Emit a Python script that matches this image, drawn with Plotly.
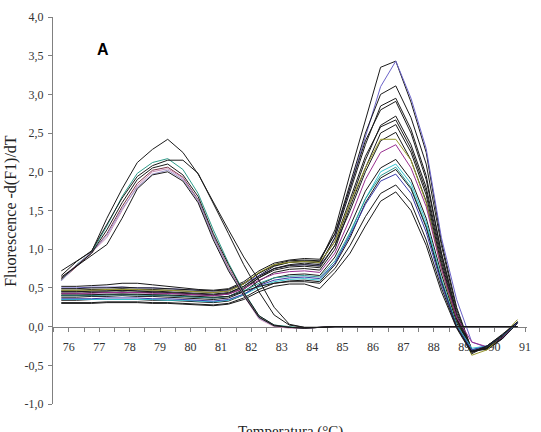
import plotly.graph_objects as go

# ---------------- data ----------------
temps = [75.75, 76.25, 76.75, 77.25, 77.75, 78.25, 78.75, 79.25, 79.75, 80.25,
         80.75, 81.25, 81.75, 82.25, 82.75, 83.25, 83.75, 84.25, 84.75, 85.25,
         85.75, 86.25, 86.75, 87.25, 87.75, 88.25, 88.75, 89.25, 89.75, 90.25, 90.75]

# first product (peak ~79 °C)
a1 = [0.72, 0.85, 0.97, 1.40, 1.78, 2.12, 2.29, 2.42, 2.25, 1.97, 1.60, 1.25, 0.90, 0.60, 0.25, 0.03,
      -0.01, -0.01, 0, 0, 0, 0, 0, 0, 0, 0, 0, 0, 0, 0, 0]
a2 = [0.66, 0.84, 0.98, 1.32, 1.66, 1.94, 2.08, 2.15, 2.15, 1.98, 1.60, 1.20, 0.80, 0.45, 0.15, 0.02,
      -0.01, -0.01, 0, 0, 0, 0, 0, 0, 0, 0, 0, 0, 0, 0, 0]
a3 = [0.60, 0.80, 0.96, 1.30, 1.68, 1.98, 2.12, 2.17, 2.03, 1.72, 1.25, 0.82, 0.45, 0.14, 0.02, 0.00,
      -0.02, -0.01, 0, 0, 0, 0, 0, 0, 0, 0, 0, 0, 0, 0, 0]
a4 = [0.62, 0.79, 0.95, 1.25, 1.60, 1.90, 2.05, 2.10, 1.96, 1.68, 1.20, 0.80, 0.44, 0.14, 0.02, -0.01,
      -0.02, -0.01, 0, 0, 0, 0, 0, 0, 0, 0, 0, 0, 0, 0, 0]
a5 = [0.60, 0.78, 0.95, 1.20, 1.55, 1.85, 2.02, 2.06, 1.93, 1.64, 1.17, 0.76, 0.42, 0.12, 0.01, -0.01,
      -0.02, -0.01, 0, 0, 0, 0, 0, 0, 0, 0, 0, 0, 0, 0, 0]
a6 = [0.63, 0.80, 0.96, 1.15, 1.50, 1.82, 2.00, 2.04, 1.92, 1.62, 1.15, 0.75, 0.40, 0.10, 0.00, -0.02,
      -0.02, -0.01, 0, 0, 0, 0, 0, 0, 0, 0, 0, 0, 0, 0, 0]
a7 = [0.64, 0.78, 0.93, 1.06, 1.40, 1.78, 1.96, 2.00, 1.88, 1.60, 1.12, 0.72, 0.40, 0.12, 0.01, -0.01,
      -0.02, -0.01, 0, 0, 0, 0, 0, 0, 0, 0, 0, 0, 0, 0, 0]
a8 = [0.59, 0.79, 0.96, 1.18, 1.52, 1.80, 1.97, 2.02, 1.90, 1.63, 1.16, 0.74, 0.41, 0.11, 0.01, -0.01,
      -0.02, -0.01, 0, 0, 0, 0, 0, 0, 0, 0, 0, 0, 0, 0, 0]

# second product (peak ~87 °C)
b1 = [0.45, 0.45, 0.46, 0.46, 0.47, 0.46, 0.45, 0.44, 0.43, 0.42, 0.41, 0.43, 0.52, 0.66, 0.78, 0.83,
      0.85, 0.84, 1.25, 1.98, 2.65, 3.35, 3.43, 2.90, 2.25, 1.10, 0.25, -0.30, -0.28, -0.15, 0.05]
b2 = [0.50, 0.50, 0.51, 0.51, 0.51, 0.50, 0.50, 0.49, 0.48, 0.47, 0.46, 0.47, 0.55, 0.66, 0.75, 0.79,
      0.80, 0.79, 1.15, 1.80, 2.45, 3.10, 3.43, 2.95, 2.30, 1.15, 0.35, -0.20, -0.27, -0.16, 0.04]
b3 = [0.52, 0.52, 0.53, 0.54, 0.56, 0.56, 0.54, 0.52, 0.50, 0.48, 0.47, 0.49, 0.58, 0.72, 0.82, 0.86,
      0.88, 0.87, 1.20, 1.85, 2.50, 3.00, 3.11, 2.70, 2.10, 1.05, 0.22, -0.30, -0.29, -0.14, 0.06]
b4 = [0.40, 0.40, 0.41, 0.41, 0.42, 0.41, 0.41, 0.40, 0.39, 0.38, 0.37, 0.39, 0.48, 0.63, 0.75, 0.80,
      0.82, 0.80, 1.15, 1.75, 2.35, 2.85, 2.95, 2.55, 1.95, 0.95, 0.18, -0.30, -0.30, -0.16, 0.05]
b5 = [0.47, 0.47, 0.48, 0.48, 0.49, 0.48, 0.48, 0.47, 0.46, 0.45, 0.44, 0.46, 0.55, 0.69, 0.80, 0.85,
      0.86, 0.85, 1.20, 1.80, 2.40, 2.80, 2.91, 2.50, 1.90, 0.95, 0.15, -0.31, -0.29, -0.15, 0.05]
b6 = [0.43, 0.43, 0.44, 0.44, 0.45, 0.44, 0.44, 0.43, 0.42, 0.41, 0.40, 0.42, 0.50, 0.63, 0.73, 0.77,
      0.78, 0.76, 1.05, 1.60, 2.15, 2.60, 2.72, 2.35, 1.80, 0.90, 0.12, -0.32, -0.28, -0.14, 0.06]
b7 = [0.49, 0.49, 0.50, 0.50, 0.51, 0.50, 0.50, 0.49, 0.48, 0.47, 0.46, 0.48, 0.56, 0.69, 0.79, 0.83,
      0.84, 0.82, 1.10, 1.65, 2.20, 2.58, 2.67, 2.30, 1.75, 0.85, 0.10, -0.30, -0.27, -0.13, 0.05]
b8 = [0.38, 0.38, 0.39, 0.39, 0.40, 0.39, 0.39, 0.38, 0.37, 0.36, 0.35, 0.37, 0.45, 0.59, 0.70, 0.74,
      0.75, 0.73, 1.00, 1.55, 2.05, 2.50, 2.61, 2.25, 1.70, 0.80, 0.10, -0.33, -0.28, -0.15, 0.04]
b9 = [0.45, 0.45, 0.46, 0.46, 0.47, 0.46, 0.46, 0.45, 0.44, 0.43, 0.42, 0.44, 0.52, 0.65, 0.75, 0.79,
      0.80, 0.78, 1.05, 1.50, 2.00, 2.40, 2.51, 2.15, 1.62, 0.78, 0.08, -0.31, -0.27, -0.14, 0.05]
b10 = [0.47, 0.47, 0.47, 0.48, 0.48, 0.48, 0.47, 0.47, 0.46, 0.45, 0.44, 0.46, 0.55, 0.70, 0.80, 0.83,
       0.84, 0.83, 1.10, 1.60, 2.05, 2.42, 2.42, 2.15, 1.60, 0.75, 0.05, -0.37, -0.30, -0.12, 0.09]
b11 = [0.43, 0.43, 0.43, 0.44, 0.44, 0.44, 0.43, 0.43, 0.42, 0.41, 0.40, 0.42, 0.49, 0.60, 0.68, 0.71,
       0.72, 0.70, 0.95, 1.40, 1.90, 2.25, 2.35, 2.05, 1.55, 0.75, 0.12, -0.20, -0.26, -0.14, 0.05]
b12 = [0.34, 0.34, 0.35, 0.35, 0.35, 0.35, 0.34, 0.34, 0.33, 0.32, 0.31, 0.33, 0.41, 0.54, 0.63, 0.67,
       0.68, 0.66, 0.90, 1.30, 1.75, 2.05, 2.16, 1.90, 1.40, 0.68, 0.05, -0.33, -0.27, -0.13, 0.05]
b13 = [0.35, 0.35, 0.35, 0.35, 0.35, 0.35, 0.35, 0.34, 0.34, 0.33, 0.32, 0.34, 0.41, 0.51, 0.58, 0.61,
       0.62, 0.60, 0.82, 1.20, 1.65, 2.00, 2.10, 1.85, 1.35, 0.62, 0.02, -0.28, -0.25, -0.12, 0.05]
b14 = [0.40, 0.40, 0.40, 0.41, 0.41, 0.41, 0.40, 0.40, 0.39, 0.38, 0.37, 0.39, 0.46, 0.56, 0.63, 0.65,
       0.66, 0.64, 0.85, 1.22, 1.65, 1.95, 2.06, 1.80, 1.30, 0.60, 0.02, -0.30, -0.26, -0.12, 0.05]
b15 = [0.31, 0.31, 0.31, 0.32, 0.32, 0.32, 0.31, 0.31, 0.30, 0.29, 0.28, 0.30, 0.37, 0.48, 0.56, 0.59,
       0.60, 0.58, 0.80, 1.15, 1.60, 1.92, 2.03, 1.78, 1.28, 0.58, 0.00, -0.32, -0.26, -0.12, 0.06]
b16 = [0.36, 0.36, 0.36, 0.37, 0.37, 0.37, 0.36, 0.36, 0.35, 0.34, 0.33, 0.35, 0.42, 0.53, 0.60, 0.63,
       0.64, 0.62, 0.82, 1.18, 1.58, 1.88, 1.97, 1.72, 1.22, 0.55, 0.00, -0.30, -0.25, -0.11, 0.05]
b17 = [0.41, 0.41, 0.41, 0.42, 0.42, 0.42, 0.41, 0.41, 0.40, 0.39, 0.38, 0.39, 0.45, 0.52, 0.56, 0.58,
       0.58, 0.56, 0.75, 1.05, 1.42, 1.72, 1.83, 1.60, 1.12, 0.50, -0.01, -0.33, -0.25, -0.11, 0.06]
b18 = [0.30, 0.30, 0.30, 0.31, 0.31, 0.31, 0.30, 0.30, 0.29, 0.28, 0.27, 0.29, 0.35, 0.45, 0.52, 0.55,
       0.55, 0.49, 0.70, 0.95, 1.30, 1.62, 1.74, 1.50, 1.05, 0.45, -0.02, -0.35, -0.25, -0.10, 0.06]

x_tick_vals = [75.5, 76, 76.5, 77, 77.5, 78, 78.5, 79, 79.5, 80, 80.5, 81, 81.5, 82, 82.5, 83,
               83.5, 84, 84.5, 85, 85.5, 86, 86.5, 87, 87.5, 88, 88.5, 89, 89.5, 90, 90.5, 91]
x_tick_text = ["", "76", "", "77", "", "78", "", "79", "", "80", "", "81", "", "82", "", "83",
               "", "84", "", "85", "", "86", "", "87", "", "88", "", "89", "", "90", "", "91"]
y_tick_vals = [-1.0, -0.5, 0.0, 0.5, 1.0, 1.5, 2.0, 2.5, 3.0, 3.5, 4.0]
y_tick_text = ["-1,0", "-0,5", "0,0", "0,5", "1,0", "1,5", "2,0", "2,5", "3,0", "3,5", "4,0"]

# drawing order: second product first, then first product (black curves last so the
# zero baseline reads black)
series = [b1, b2, b3, b4, b5, b6, b7, b8, b9, b10, b11, b12, b13, b14, b15, b16, b17, b18,
          a3, a5, a6, a8, a1, a2, a4, a7]
colors = ["#1a1a1a", "#6b63c9", "#1a1a1a", "#1a1a1a", "#1a1a1a", "#1a1a1a", "#1a1a1a", "#1a1a1a",
          "#1a1a1a", "#9a9a2e", "#992f8f", "#1a1a1a", "#35c3cf", "#2f9c96", "#1a1a1a", "#3a3aa8",
          "#1a1a1a", "#1a1a1a",
          "#2f9c8a", "#7a3348", "#cc8fb8", "#9d96cc", "#1a1a1a", "#1a1a1a", "#1a1a1a", "#1a1a1a"]

fig = go.Figure()
for s, c in zip(series, colors):
    fig.add_trace(go.Scatter(x=temps, y=s, mode="lines", line=dict(color=c, width=1),
                             showlegend=False, hoverinfo="skip"))

W, H = 541, 432
L, R, T, B = 53, 10, 13, 28
x0 = 75.478
x1 = x0 + (W - L - R) / 30.667

fig.update_layout(
    width=W, height=H, margin=dict(l=L, r=R, t=T, b=B, pad=0),
    paper_bgcolor="white", plot_bgcolor="white",
    showlegend=False,
    xaxis=dict(range=[x0, x1], anchor="free", position=0.2, showgrid=False, zeroline=False,
               showline=True, linecolor="#808080", linewidth=1, layer="below traces",
               tickmode="array", tickvals=x_tick_vals, ticktext=x_tick_text,
               ticks="outside", ticklen=4, tickcolor="#808080", ticklabelstandoff=5,
               tickfont=dict(family="Liberation Serif", size=12, color="#333333")),
    yaxis=dict(range=[-1, 4], showgrid=False, zeroline=False,
               showline=True, linecolor="#808080", linewidth=1, layer="below traces",
               tickmode="array", tickvals=y_tick_vals, ticktext=y_tick_text,
               ticks="outside", ticklen=4, tickcolor="#808080", ticklabelstandoff=2,
               tickfont=dict(family="Liberation Serif", size=12, color="#333333")),
    annotations=[
        dict(text="Fluorescence -d(F1)/dT", xref="paper", yref="paper",
             x=(10 - L) / (W - L - R), y=0.5, xanchor="center", yanchor="middle",
             textangle=-90, showarrow=False,
             font=dict(family="Liberation Serif", size=16, color="#222222")),
        dict(text="Temperatura (°C)", xref="paper", yref="paper",
             x=0.5, y=(404 - 421) / 391, xanchor="center", yanchor="top",
             showarrow=False,
             font=dict(family="Liberation Serif", size=15, color="#222222")),
        dict(text="<b>A</b>", xref="paper", yref="paper",
             x=(103 - L) / (W - L - R), y=(404 - 46) / 391, xanchor="center", yanchor="middle",
             showarrow=False,
             font=dict(family="Liberation Sans", size=16, color="#000000")),
    ],
)

fig.write_html("out.html")
